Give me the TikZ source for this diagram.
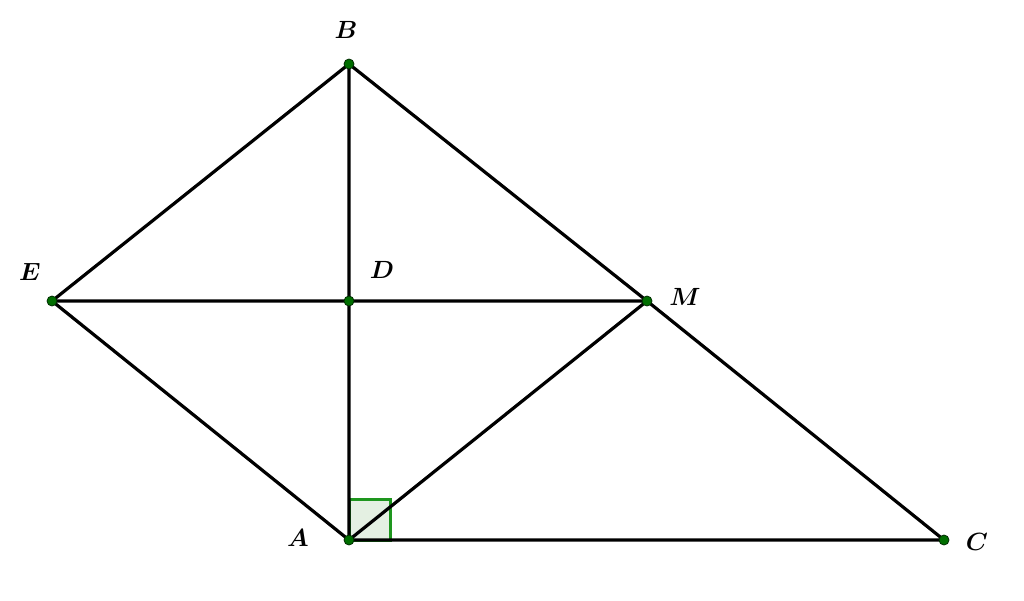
\documentclass[tikz,border=0pt]{standalone}
\usepackage{amsmath,bm}
\definecolor{sqfill}{RGB}{228,240,226}
\definecolor{sqline}{RGB}{30,150,30}
\definecolor{dotg}{RGB}{0,110,0}
\begin{document}
\begin{tikzpicture}[x=1pt,y=-1pt,
  seg/.style={line width=3.2pt,black},
  pt/.style={circle,fill=dotg,draw=black!60!dotg,line width=0.8pt,inner sep=0pt,minimum size=10pt},
  lbl/.style={font=\fontsize{26}{31}\selectfont}]
\useasboundingbox (0,0) rectangle (1024,600);
\fill[white] (0,0) rectangle (1024,600);
\coordinate (b) at (349,64);
\coordinate (e) at (52,301);
\coordinate (d) at (349,301);
\coordinate (m) at (647,301);
\coordinate (a) at (349,540);
\coordinate (c) at (944,540);
\coordinate (sq1) at (349,499);
\coordinate (sq2) at (390,499);
\coordinate (sq3) at (390,540);
\filldraw[fill=sqfill,draw=sqline,line width=3pt] (a) -- (sq1) -- (sq2) -- (sq3) -- cycle;
\draw[seg,line join=round] (b) -- (e) -- (a) -- (c) -- (m) -- (b) -- (a);
\draw[seg,line join=round] (e) -- (m) -- (a);
\foreach \p in {b,e,d,m,a,c} \node[pt] (n\p) at (\p) {};
\node[lbl] (lb) at (346,30) {$\bm{B}$};
\node[lbl] (le) at (30,272) {$\bm{E}$};
\node[lbl] (ld) at (382,270) {$\bm{D}$};
\node[lbl] (lm) at (685,297) {$\bm{M}$};
\node[lbl] (la) at (298,538) {$\bm{A}$};
\node[lbl] (lc) at (977,542) {$\bm{C}$};
\end{tikzpicture}
\end{document}
